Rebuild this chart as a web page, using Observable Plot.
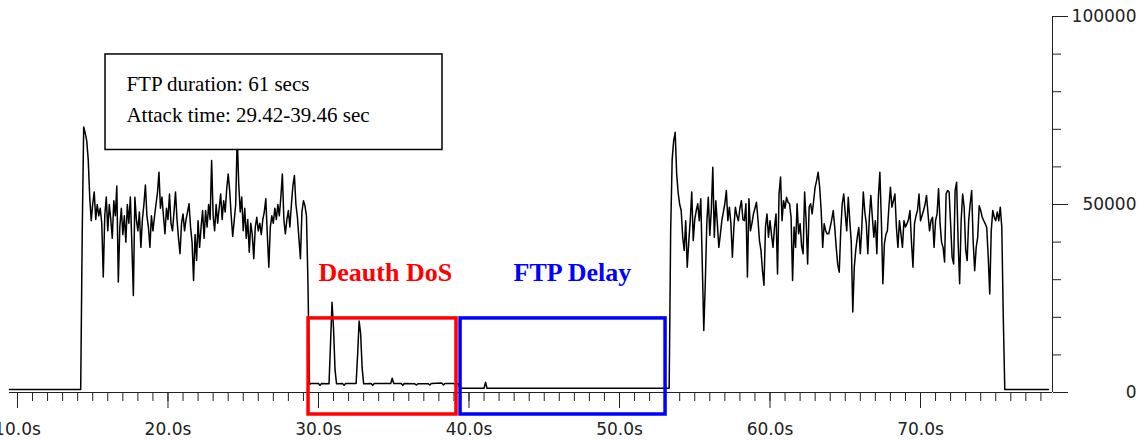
<!DOCTYPE html>
<html><head><meta charset="utf-8">
<script src="https://cdn.jsdelivr.net/npm/d3@7"></script>
<script src="https://cdn.jsdelivr.net/npm/@observablehq/plot@0.6"></script>
<style>body{margin:0;background:#fff}#chart{width:1148px;height:440px}</style>
</head><body><div id="chart"></div>
<script>
// ---- data (throughput, in thousands of units; time in seconds) ----
const sampleInterval = 0.1;
const idleBeforeT = [9.47, 14.2];
const idleBeforeV = [0.8, 0.8];
const seg1Start = 14.3;
const seg1Values = [
  41.8, 70.6, 69, 67, 62, 52, 45.7, 50.2, 53.3, 46,
  50, 47, 49, 45, 30.7, 47, 52, 43, 50, 46,
  41, 51, 47, 54.9, 29.4, 44, 49, 42, 47, 40,
  50, 45, 52, 39.5, 25.8, 51.9, 46, 43, 48, 38.6,
  46, 50, 55.2, 47, 44, 38.6, 47, 43, 46.6, 50,
  53, 58.6, 49, 52, 47, 42.2, 49, 46, 52.8, 45,
  43, 48, 53.3, 46, 41, 36.9, 45, 47.5, 43, 46,
  48, 50.2, 44, 40, 29.8, 42, 35.1, 45.7, 38.6, 44,
  48.4, 41, 48.4, 44, 50, 46, 61.7, 47, 43, 50,
  45, 49, 52.8, 46, 51, 48, 54, 58.1, 53.7, 47,
  41.5, 45.7, 50, 68, 55.5, 48, 52, 43, 49, 41,
  46, 37.3, 45, 42, 35.6, 44, 46.6, 43, 45, 42,
  46, 48, 51.5, 42, 33.3, 44, 47, 45, 49, 46,
  50, 47, 52, 58.1, 46, 42.2, 46, 48.4, 44, 50,
  55, 57.7, 50, 46.6, 41, 35.6, 48, 51, 49.7, 47,
  29.4
];
const lowT = [29.4, 29.5, 29.6, 30.0, 30.1, 30.2, 30.7, 30.8, 30.9, 31.0, 31.1, 31.2,
  31.6, 31.7, 31.8, 32.5, 32.6, 32.7, 32.8, 32.9, 33.0, 33.5, 33.6, 33.7, 34.8, 34.9,
  35.0, 35.5, 35.6, 35.7, 36.4, 36.5, 36.6, 37.3, 37.4, 37.5, 38.2, 38.3, 38.4, 39.0,
  39.1, 39.2, 39.3, 39.4, 41.0, 41.1, 41.2, 53.3];
const lowV = [2.2, 2.4, 2.4, 2.4, 1.9, 2.4, 2.3, 13, 24, 17, 6, 2.3,
  2.4, 1.9, 2.4, 2.4, 10, 19, 15.7, 6.6, 2.3, 2.4, 1.9, 2.4, 2.4, 3.8,
  2.4, 2.4, 1.9, 2.4, 2.3, 2.0, 2.3, 2.3, 2.0, 2.4, 2.5, 2.0, 2.4, 2.4,
  2.0, 2.3, 2.3, 1.1, 1.1, 2.7, 1.1, 1.1];
const seg2Start = 53.4;
const seg2Values = [
  43, 62, 67, 69.2, 58, 53, 50, 48.4, 41.3, 37.8,
  45.7, 33.3, 40, 45.7, 53.3, 40.4, 46, 48.4, 50.2, 45.7,
  51.5, 34.2, 16.5, 28.9, 45, 51.9, 41.8, 48.4, 59.9, 41.3,
  51, 45, 38.6, 42, 45.7, 48, 50.2, 53.7, 45.7, 49.3,
  45, 36, 44, 49.3, 47, 45.7, 49, 51, 46, 45.7,
  50.2, 30.7, 51.5, 43, 45, 47.5, 49, 50.6, 46, 40.4,
  37.8, 32.4, 28.5, 44, 47.5, 41.3, 45.7, 42, 38.6, 44,
  47.5, 31.5, 52.8, 57.3, 45.7, 51, 49, 51.9, 50.6, 50.2,
  46.6, 29.8, 44, 38.6, 50.2, 42.2, 44.9, 39, 36.9, 53.3,
  45.7, 34.2, 49.3, 50.2, 47.5, 51, 54.6, 56.4, 58.6, 54.6,
  48.4, 38.6, 44.9, 43, 42.2, 42.2, 44, 46, 48.4, 44,
  38.6, 34, 32, 43, 50.2, 52.8, 47.5, 43, 51.9, 45.7,
  40, 21.4, 33.3, 38, 41.3, 43.9, 36.9, 43.9, 53.3, 48,
  44.9, 36.9, 46.6, 52.4, 46.6, 41.3, 45.7, 36.9, 51.9, 58.6,
  45.7, 28.9, 39.5, 42, 43, 49.3, 54.6, 49.3, 51, 52.8,
  43.9, 38.6, 45.7, 42.2, 38.6, 45.7, 44, 44.9, 46, 48.4,
  40, 33.3, 44.9, 47, 48.4, 52.8, 45.7, 47, 48.4, 50,
  52.4, 47.5, 43, 45.7, 46.6, 38.6, 45.7, 47.5, 54.2, 44.9,
  40, 38.6, 34.7, 52.8, 53.7, 53.3, 44.9, 36, 34.2, 53.7,
  55.9, 40, 28.9, 45.7, 52.8, 49.3, 38, 35.1, 45.7, 50.2,
  53.7, 40, 32.4, 38.6, 41.3, 49.7, 48.4, 46.6, 45.7, 44.9,
  43.9, 36, 26.2, 43, 48.4, 46.6, 45.7, 48, 45.7, 49.3,
  44, 20
];
const idleAfterT = [75.6, 78.5];
const idleAfterV = [0.8, 0.8];

// axis ticks
const xDomain = [9.47, 78.77];
const majorX = [10, 20, 30, 40, 50, 60, 70];
const minorX = d3.range(10, 79, 1);
const majorY = [0, 50000, 100000];
const minorY = d3.range(0, 100001, 10000);

// annotations
const regionLabels = ["Deauth DoS", "FTP Delay"];
const regionStart = [29.34, 39.44];
const regionEnd = [39.17, 53.06];
const regionBottom = [-5.85, -5.85];
const regionTop = [19.7, 19.7];
const regionLabelT = [30.0, 42.96];
const regionLabelV = [31.8, 31.8];
const noteLines = ["FTP duration: 61 secs", "Attack time: 29.42-39.46 sec"];
const noteLineT = [17.24, 17.24];
const noteLineV = [82.1, 73.7];
const noteBoxT = [15.85, 38.24];
const noteBoxV = [64.5, 89.9];

// ---- build tables ----
const series = [];
idleBeforeT.forEach((t, i) => series.push({t, v: idleBeforeV[i] * 1000}));
seg1Values.forEach((v, i) => series.push({t: seg1Start + i * sampleInterval, v: v * 1000}));
lowT.forEach((t, i) => series.push({t, v: lowV[i] * 1000}));
seg2Values.forEach((v, i) => series.push({t: seg2Start + i * sampleInterval, v: v * 1000}));
idleAfterT.forEach((t, i) => series.push({t, v: idleAfterV[i] * 1000}));

const regions = regionLabels.map((label, i) => ({
  label, start: regionStart[i], end: regionEnd[i],
  bottom: regionBottom[i] * 1000, top: regionTop[i] * 1000,
  lt: regionLabelT[i], lv: regionLabelV[i] * 1000
}));
const noteRows = noteLines.map((text, i) => ({text, t: noteLineT[i], v: noteLineV[i] * 1000}));
const noteBox = [{t1: noteBoxT[0], t2: noteBoxT[1], v1: noteBoxV[0] * 1000, v2: noteBoxV[1] * 1000}];

const serif = "'Liberation Serif', 'Times New Roman', serif";

const chart = Plot.plot({
  width: 1148, height: 440,
  marginLeft: 9, marginRight: 96, marginTop: 16, marginBottom: 48,
  style: {fontFamily: "'DejaVu Sans', sans-serif", background: "#fff"},
  x: {domain: xDomain},
  y: {domain: [0, 100000]},
  color: {domain: regionLabels, range: ["#ff0000", "#0000ff"]},
  marks: [
    Plot.ruleY([0], {stroke: "#222"}),
    Plot.ruleX([xDomain[1]], {stroke: "#222"}),
    Plot.axisX({ticks: minorX, tickSize: 9, tickFormat: () => "", stroke: "#222"}),
    Plot.axisX({ticks: majorX, tickSize: 16, tickPadding: 14, tickFormat: d => d.toFixed(1) + "s", fontSize: 17, fill: "#222", stroke: "#222"}),
    Plot.axisY({anchor: "right", ticks: minorY, tickSize: 8, tickFormat: () => "", stroke: "#222"}),
    Plot.axisY({anchor: "right", ticks: majorY, tickSize: 15, tickFormat: () => "", stroke: "#222"}),
    Plot.axisY({anchor: "right", ticks: majorY, tickSize: 0, tickPadding: 18, textAnchor: "end", dx: 66, tickFormat: d => String(d), fontSize: 17, fill: "#222"}),
    Plot.line(series, {x: "t", y: "v", stroke: "#000", strokeWidth: 1.5}),
    Plot.rect(regions, {x1: "start", x2: "end", y1: "bottom", y2: "top", stroke: "label", strokeWidth: 3.5, fill: "none"}),
    Plot.text(regions, {x: "lt", y: "lv", text: "label", fill: "label", textAnchor: "start", fontSize: 26, fontWeight: "bold", fontFamily: serif}),
    Plot.rect(noteBox, {x1: "t1", x2: "t2", y1: "v1", y2: "v2", fill: "#fff", stroke: "#000", strokeWidth: 1.5}),
    Plot.text(noteRows, {x: "t", y: "v", text: "text", textAnchor: "start", fontSize: 21, fontFamily: serif, fill: "#000"})
  ]
});
document.getElementById("chart").appendChild(chart);
</script>
</body></html>
